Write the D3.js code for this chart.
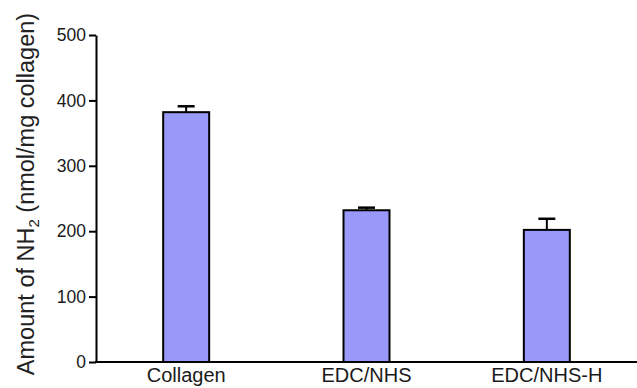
<!DOCTYPE html>
<html><head><meta charset="utf-8">
<script src="https://cdn.jsdelivr.net/npm/d3@7"></script>
<style>body{margin:0;background:#fff}svg{display:block}text{font-family:"Liberation Sans",Arial,sans-serif}</style>
</head><body><svg id="c" width="637" height="388"></svg>
<script>
const categories = ["Collagen", "EDC/NHS", "EDC/NHS-H"];
const values = [382, 232, 202];
const errors = [9, 4, 17];
const yTicks = [0, 100, 200, 300, 400, 500];

const svg = d3.select("#c");
const x = d3.scaleBand().domain(categories).range([96, 637]).paddingInner(0.745).paddingOuter(0.3725);
const y = d3.scaleLinear().domain([0, 500]).range([362, 35]);

// bars
svg.selectAll("rect.bar").data(categories).enter().append("rect")
  .attr("x", d => x(d)).attr("width", x.bandwidth())
  .attr("y", (d,i) => y(values[i])).attr("height", (d,i) => y(0) - y(values[i]))
  .attr("fill", "#9999fa").attr("stroke", "#000").attr("stroke-width", 2);

// error bars
const cap = 17;
svg.selectAll("line.err").data(categories).enter().append("line")
  .attr("x1", d => x(d) + x.bandwidth()/2).attr("x2", d => x(d) + x.bandwidth()/2)
  .attr("y1", (d,i) => y(values[i])).attr("y2", (d,i) => y(values[i] + errors[i]))
  .attr("stroke", "#000").attr("stroke-width", 2);
svg.selectAll("line.cap").data(categories).enter().append("line")
  .attr("x1", d => x(d) + x.bandwidth()/2 - cap/2).attr("x2", d => x(d) + x.bandwidth()/2 + cap/2)
  .attr("y1", (d,i) => y(values[i] + errors[i])).attr("y2", (d,i) => y(values[i] + errors[i]))
  .attr("stroke", "#000").attr("stroke-width", 2.5);

// y axis
const yAxis = svg.append("g").attr("transform", "translate(96,0)")
  .call(d3.axisLeft(y).tickValues(yTicks).tickSize(7).tickPadding(3).tickSizeOuter(0));
yAxis.attr("font-size", 18).attr("font-family", null);
yAxis.select(".domain").attr("stroke-width", 2);
yAxis.selectAll(".tick line").attr("stroke-width", 2);
yAxis.selectAll("text").style("font-size", "17.5px").attr("fill", "#1a1a1a");

// x axis
const xAxis = svg.append("g").attr("transform", "translate(0,362)")
  .call(d3.axisBottom(x).tickSize(0).tickPadding(6).tickSizeOuter(0));
xAxis.attr("font-size", 18).attr("font-family", null);
xAxis.select(".domain").attr("stroke-width", 2).attr("d", "M95,0H637");
xAxis.selectAll("text").style("font-size", "20px").attr("fill", "#1a1a1a");

// y label
const lab = svg.append("text").attr("transform", "translate(34,194) rotate(-90)")
  .attr("text-anchor", "middle").style("font-size", "23.5px").attr("fill", "#222");
lab.append("tspan").text("Amount of NH");
lab.append("tspan").text("2").style("font-size", "15px").attr("dy", 5);
lab.append("tspan").text(" (nmol/mg collagen)").attr("dy", -5);
</script></body></html>
